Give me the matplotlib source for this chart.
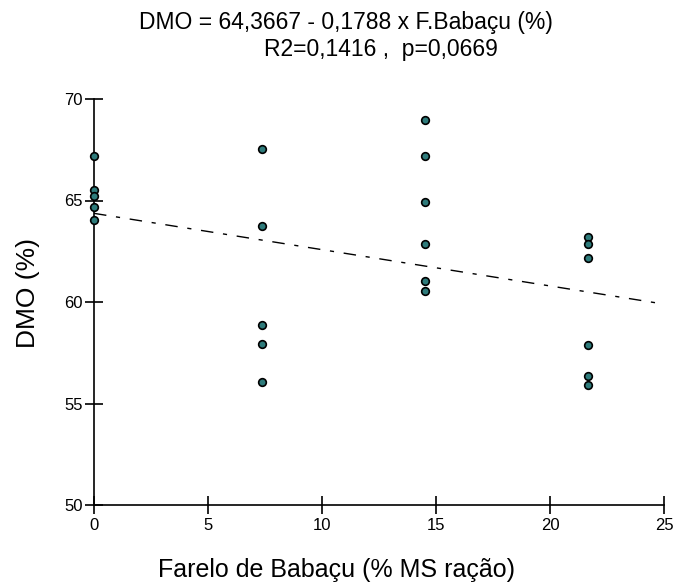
import matplotlib
matplotlib.use("Agg")
import matplotlib.pyplot as plt
import numpy as np

plt.rcParams['font.family'] = ['Liberation Sans', 'DejaVu Sans']

x_levels = [0, 7.35, 14.5, 21.65]
dmo_0 = [67.2, 65.5, 65.2, 64.7, 64.05]
dmo_7 = [67.55, 63.75, 58.85, 57.95, 56.05]
dmo_14 = [68.95, 67.2, 64.95, 62.85, 61.05, 60.55]
dmo_21 = [63.2, 62.85, 62.15, 57.9, 56.35, 55.9]
intercept = 64.3667
slope = -0.1788
x_ticks = [0, 5, 10, 15, 20, 25]
y_ticks = [50, 55, 60, 65, 70]

fig = plt.figure(figsize=(6.74, 5.85), dpi=100)
ax = fig.add_axes([94/674, 1-505/585, (664-94)/674, (505-99)/585])

groups = [dmo_0, dmo_7, dmo_14, dmo_21]
for xv, ys in zip(x_levels, groups):
    ax.plot([xv]*len(ys), ys, linestyle='none', marker='o', markersize=5.5,
            markerfacecolor='#2e7b7b', markeredgecolor='black', markeredgewidth=1.2,
            clip_on=False, zorder=3)

xl = np.array([0, 25])
ax.plot(xl, intercept + slope*xl, color='black', linewidth=1.0,
        dashes=(9, 7, 3, 7))

ax.set_xlim(0, 25)
ax.set_ylim(50, 70)
ax.set_xticks(x_ticks)
ax.set_yticks(y_ticks)
for s in ['top', 'right']:
    ax.spines[s].set_visible(False)
for s in ['left', 'bottom']:
    ax.spines[s].set_linewidth(1.2)
ax.tick_params(direction='inout', length=13, width=1.2, labelsize=12, pad=1.5)
ax.tick_params(axis='x', pad=3)

fig.text(0.499, 1-577/585, 'Farelo de Babaçu (% MS ração)', ha='center', va='baseline', fontsize=18)
fig.text(0.041, 0.499, 'DMO (%)', ha='center', va='center', rotation=90, fontsize=19)

fig.text(0.513, 1-29/585, 'DMO = 64,3667 - 0,1788 x F.Babaçu (%)', ha='center', va='baseline', fontsize=16.5)
fig.text(0.565, 1-56/585, 'R2=0,1416 ,  p=0,0669', ha='center', va='baseline', fontsize=16.5)

fig.savefig('out.png', dpi=100)
